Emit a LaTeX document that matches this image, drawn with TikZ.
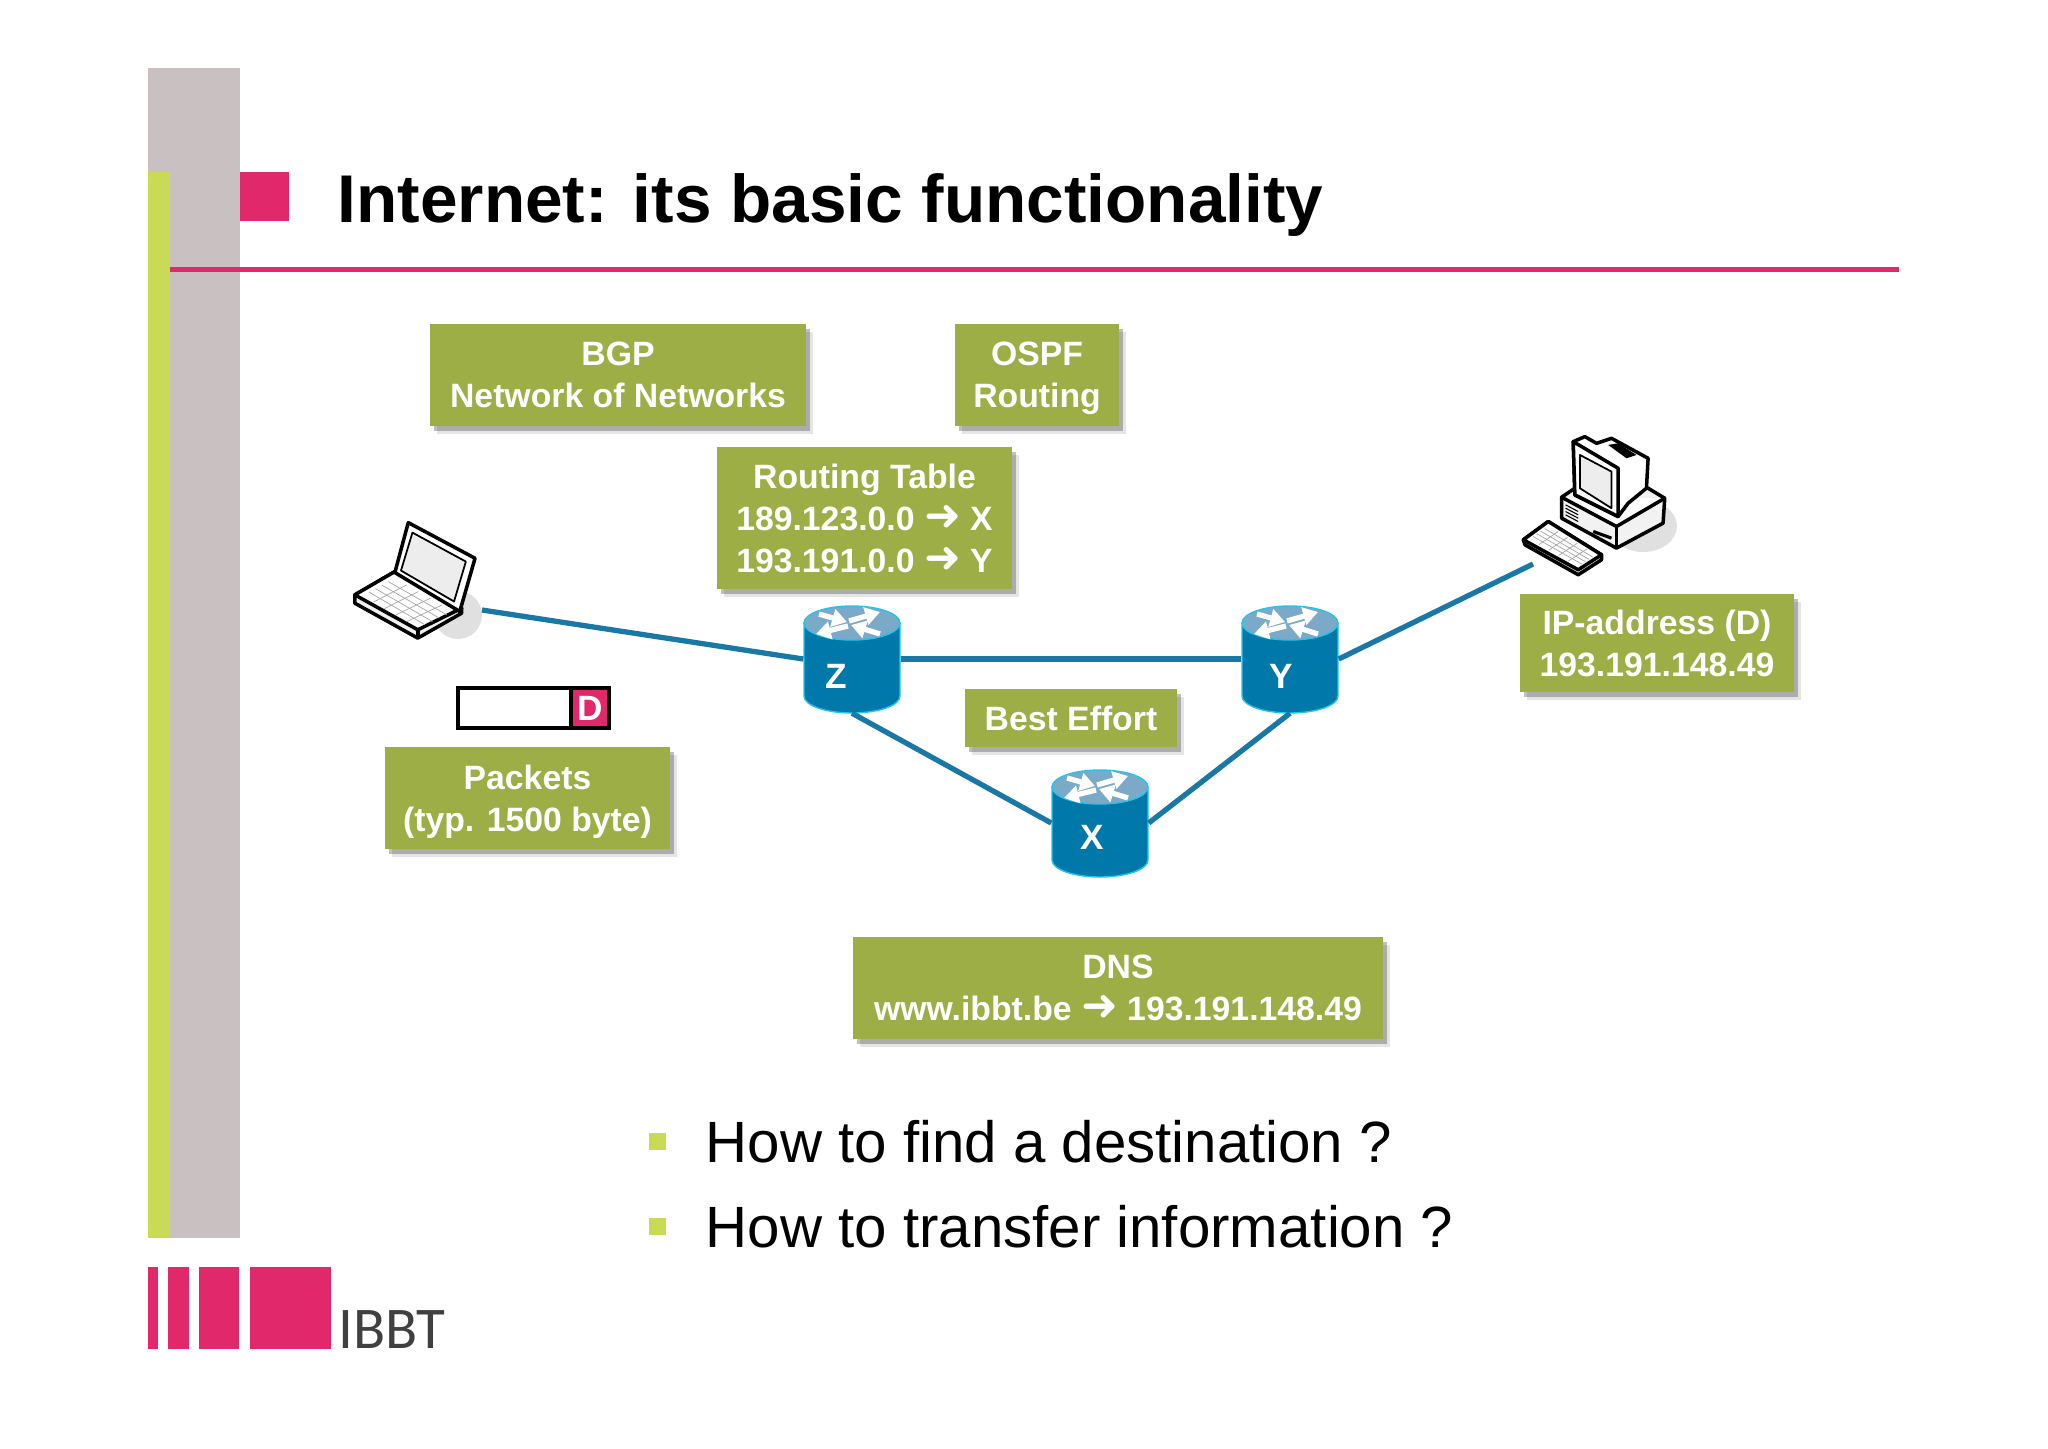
\documentclass[tikz,border=0pt]{standalone}
\usepackage{fontspec}
\setmainfont{Liberation Sans}
\newfontfamily\arrowfont{DejaVu Sans}
\newfontfamily\logofont{Carlito}
\usetikzlibrary{arrows.meta, calc, shadows}

\definecolor{slidegray}{HTML}{C9C1C1}
\definecolor{slidelime}{HTML}{C9DB55}
\definecolor{slidepink}{HTML}{E0286B}
\definecolor{boxgreen}{HTML}{9DAE47}
\definecolor{routerblue}{HTML}{0078AA}
\definecolor{routertop}{HTML}{7BA9C8}
\definecolor{routerrim}{HTML}{25C4EA}
\definecolor{linkblue}{HTML}{1A78A6}

\tikzset{
    infobox/.style={fill=boxgreen, text=white, align=center, inner sep=0pt,
        font=\fontsize{9.6}{11.9}\selectfont\bfseries, text depth=0pt,
        drop shadow={shadow xshift=0.07cm, shadow yshift=-0.08cm,
            fill=black, opacity=0.10},
        drop shadow={shadow xshift=0.04cm, shadow yshift=-0.05cm,
            fill=black, opacity=0.25}},
    link/.style={draw=linkblue, line width=1.5pt},
    routerbase/.style={minimum width=0.96cm, minimum height=1.07cm, inner sep=0pt},
    routerlabel/.style={text=white, inner sep=0pt,
        font=\fontsize{10}{12}\selectfont\bfseries},
    routerarrow/.style={draw=white, line width=1.5pt,
        -{Triangle[width=5pt, length=4.2pt]}},
    outline/.style={draw=black, line width=1pt, line join=round},
    keyline/.style={draw=black!35, line width=0.2pt},
    bulletmark/.style={fill=slidelime, minimum size=0.17cm, inner sep=0pt},
    bullettext/.style={anchor=base west, inner sep=0pt,
        font=\fontsize{16.56}{20}\selectfont},
}

\newcommand{\rarr}{{\arrowfont\bfseries\fontsize{12.5}{11.9}\selectfont\symbol{"279C}}}

\newcommand{\router}[4]{
    \node[routerbase] (#1) at (#2) {};
    \begin{scope}[shift={(#2)}]
        \draw[fill=routerblue, draw=routerrim, line width=0.4pt]
            (-48, -36) -- (-48, 37) arc[start angle=180, end angle=0,
            x radius=48, y radius=17] -- (48, -36) -- cycle;
        \draw[fill=routertop, draw=routerrim, line width=0.4pt]
            (0, -36) ellipse[x radius=48, y radius=17];
        \draw[routerarrow] (-33, -45) -- (-5, -37);
        \draw[routerarrow] (-3, -38) -- (28, -47);
        \draw[routerarrow] (-4, -33) -- (-36, -25);
        \draw[routerarrow] (28, -25) -- (-1, -34);
        \node[routerlabel] (#1text) at (#4) {#3};
    \end{scope}
}

\begin{document}
\begin{tikzpicture}[x=0.01cm, y=-0.01cm]
    \useasboundingbox (0, 0) rectangle (2048, 1448);

    \fill[slidegray] (148, 68) rectangle (240, 1238);
    \fill[slidelime] (148, 172) rectangle (170, 1238);
    \fill[slidepink] (240, 172) rectangle (289, 221);
    \fill[slidepink] (170, 266.5) rectangle (1899, 271.5);
    \node[anchor=base west, inner sep=0pt, font=\fontsize{19.2}{23}\selectfont\bfseries]
        (title) at (337, 222) {Internet: its basic functionality};

    \foreach \barL/\barR in {148/158, 168/189, 199/239, 250/331}
        \fill[slidepink] (\barL, 1267) rectangle (\barR, 1349);
    \node[anchor=base west, inner sep=0pt, text=black!75,
        font=\logofont\fontsize{16.8}{19}\selectfont] (logo) at (338, 1348) {IBBT};

    \node[infobox, minimum width=3.76cm, minimum height=1.01cm] (bgp) at (618, 375)
        {BGP\\Network of Networks};
    \node[infobox, minimum width=1.64cm, minimum height=1.01cm] (ospf) at (1037, 375)
        {OSPF\\Routing};
    \node[infobox, minimum width=2.95cm, minimum height=1.41cm] (table) at (864.5, 518)
        {Routing Table\\189.123.0.0 \rarr{} X\\193.191.0.0 \rarr{} Y};
    \node[infobox, minimum width=2.74cm, minimum height=0.98cm] (address) at (1657, 643)
        {IP-address (D)\\193.191.148.49};
    \node[infobox, minimum width=2.12cm, minimum height=0.58cm] (effort) at (1071, 718)
        {Best Effort};
    \node[infobox, minimum width=2.85cm, minimum height=1.02cm] (packets) at (527.5, 798)
        {Packets\\(typ. 1500 byte)};
    \node[infobox, minimum width=5.30cm, minimum height=1.01cm] (dns) at (1118, 988)
        {DNS\\www.ibbt.be \rarr{} 193.191.148.49};

    % laptop
    \fill[black!12] (458, 615) ellipse[x radius=24, y radius=24];
    \begin{scope}[shift={(330, 500)}, x=0.00382cm, y=-0.00333cm]
        \draw[outline, fill=black!6] (170, 215) -- (65, 285) -- (65, 310) -- (230, 415)
            -- (345, 340) -- (345, 325) -- cycle;
        \draw[outline, fill=white] (170, 215) -- (65, 285) -- (230, 390) -- (345, 325) -- cycle;
        \draw[outline] (230, 390) -- (230, 415);
        \coordinate (keyA) at (170, 235);
        \coordinate (keyB) at (325, 335);
        \coordinate (keyC) at (230, 385);
        \coordinate (keyD) at (85, 287);
        \foreach \keyT in {0.2, 0.4, 0.6, 0.8} {
            \draw[keyline] ($(keyA)!\keyT!(keyB)$) -- ($(keyD)!\keyT!(keyC)$);
            \draw[keyline] ($(keyA)!\keyT!(keyD)$) -- ($(keyB)!\keyT!(keyC)$);
        }
        \draw[outline, fill=white] (205, 68) -- (380, 175) -- (340, 335) -- (170, 218) -- cycle;
        \draw[outline, fill=black!7, line width=0.5pt] (216, 98) -- (356, 185)
            -- (325, 305) -- (186, 212) -- cycle;
    \end{scope}

    % desktop
    \fill[black!12] (1643, 526) ellipse[x radius=34, y radius=26];
    \begin{scope}[shift={(1500, 420)}, x=0.00333cm, y=-0.00333cm]
        \draw[outline, fill=black!5] (185, 232) -- (225, 205) -- (445, 205) -- (495, 235)
            -- (490, 310) -- (350, 385) -- (185, 295) -- cycle;
        \draw[outline, fill=white] (185, 232) -- (350, 320) -- (495, 235);
        \draw[outline] (350, 320) -- (350, 385);
        \draw[draw=black, line width=0.9pt] (280, 335) -- (335, 355);
        \foreach \ventY in {255, 265, 275, 285}
            \draw[draw=black, line width=0.3pt] (197, \ventY) -- (235, \ventY + 20);
        \draw[outline, fill=white] (220, 65) -- (255, 50) -- (290, 70) -- (335, 55)
            -- (445, 115) -- (440, 205) -- (385, 250) -- (355, 290) -- (225, 225) -- cycle;
        \draw[outline, fill=white] (220, 65) -- (355, 145) -- (355, 290) -- (225, 225) -- cycle;
        \draw[outline, fill=black!7, line width=0.5pt] (240, 105) -- (335, 155)
            -- (335, 265) -- (240, 205) -- cycle;
        \fill[black] (325, 75) -- (355, 70) -- (410, 105) -- (380, 115) -- cycle;
        \draw[outline, fill=black!6] (70, 360) -- (145, 305) -- (305, 405) -- (305, 420)
            -- (235, 465) -- (75, 375) -- cycle;
        \draw[outline, fill=white] (70, 360) -- (145, 305) -- (305, 405) -- (235, 450) -- cycle;
        \coordinate (padA) at (145, 318);
        \coordinate (padB) at (290, 405);
        \coordinate (padC) at (235, 440);
        \coordinate (padD) at (88, 358);
        \foreach \keyT in {0.2, 0.4, 0.6, 0.8} {
            \draw[keyline] ($(padA)!\keyT!(padB)$) -- ($(padD)!\keyT!(padC)$);
            \draw[keyline] ($(padA)!\keyT!(padD)$) -- ($(padB)!\keyT!(padC)$);
        }
    \end{scope}

    \coordinate (laptopport) at (482, 610);
    \coordinate (desktopport) at (1533, 564);

    \router{routerZ}{852, 659}{Z}{-16, 17}
    \router{routerY}{1290, 659}{Y}{-9, 17}
    \router{routerX}{1100, 823}{X}{-8, 14}

    \draw[link] (laptopport) -- (routerZ.west);
    \draw[link] (routerZ.east) -- (routerY.west);
    \draw[link] (routerY.east) -- (desktopport);
    \draw[link] (routerZ.south) -- (routerX.west);
    \draw[link] (routerX.east) -- (routerY.south);

    \node[draw=black, line width=1.2pt, fill=white, inner sep=0pt,
        minimum width=1.51cm, minimum height=0.40cm] (packet) at (533.5, 708) {};
    \node[draw=black, line width=1.2pt, fill=slidepink, text=white, inner sep=0pt,
        minimum width=0.38cm, minimum height=0.40cm,
        font=\fontsize{10}{12}\selectfont\bfseries] (dest) at (590, 708) {D};

    \node[bulletmark] (markA) at (657.5, 1141) {};
    \node[bulletmark] (markB) at (657.5, 1226) {};
    \node[bullettext] (askA) at (705, 1162.5) {How to find a destination ?};
    \node[bullettext] (askB) at (705, 1247.5) {How to transfer information ?};
\end{tikzpicture}
\end{document}
